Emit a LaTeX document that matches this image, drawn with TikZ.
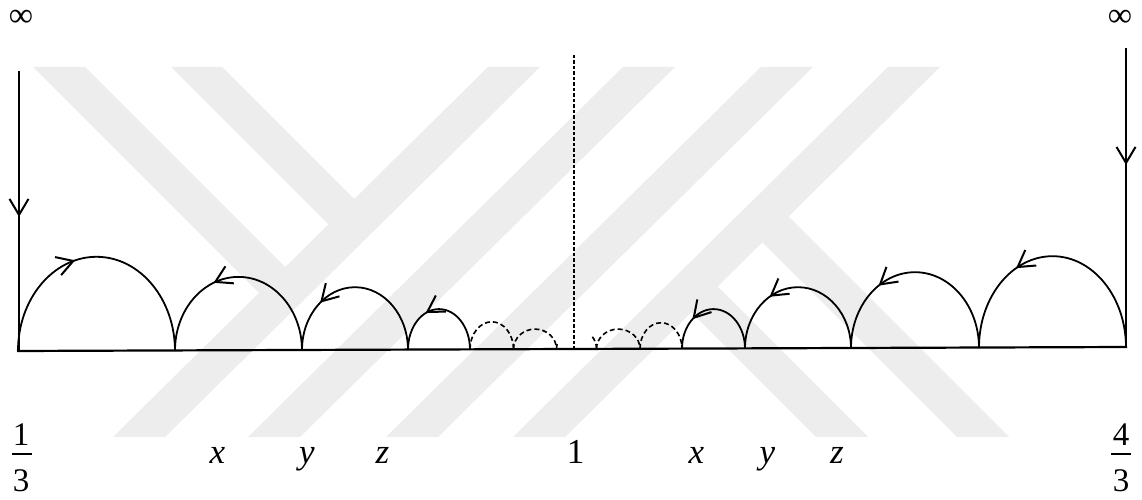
\documentclass[tikz,border=0pt]{standalone}
\usepackage{fontspec}
\setmainfont{Liberation Serif}
\usetikzlibrary{arrows.meta,decorations.markings}
\tikzset{
  mybarb/.tip={Straight Barb[length=16pt,width=19pt]},
  wm/.style={fill=black!7,draw=none},
  baseln/.style={line width=2.2pt},
  vertln/.style={line width=2.1pt},
  solidarc/.style={line width=1.8pt},
  dasharc/.style={line width=1.6pt,dash pattern=on 5pt off 3pt},
  centerln/.style={line width=1.1pt,dash pattern=on 3.5pt off 2pt},
  fwd/.style={postaction={decorate},decoration={markings,mark=at position #1 with {\arrow[line width=2pt]{mybarb}}}},
  bwd/.style={postaction={decorate},decoration={markings,mark=at position #1 with {\arrowreversed[line width=2pt]{mybarb}}}},
  lbl/.style={font=\fontsize{35}{42}\selectfont,inner sep=0pt,anchor=base},
  fraclbl/.style={font=\fontsize{33}{40}\selectfont,inner sep=0pt,anchor=base},
  inflbl/.style={font=\fontsize{34}{40}\selectfont,inner sep=0pt,anchor=center},
  fracbar/.style={line width=1.8pt},
}
\begin{document}
\begin{tikzpicture}[x=1pt,y=1pt]
\useasboundingbox (0,0) rectangle (1142,500);
\fill[white] (0,0) rectangle (1142,500);
% watermark
\fill[wm] (113,63) -- (165,63) -- (540,433) -- (488,433) -- cycle;
\fill[wm] (248,63) -- (300,63) -- (675,433) -- (623,433) -- cycle;
\fill[wm] (386,63) -- (438,63) -- (813,433) -- (761,433) -- cycle;
\fill[wm] (513,63) -- (565,63) -- (940,433) -- (888,433) -- cycle;
\fill[wm] (33,433) -- (85,433) -- (298,220) -- (272,194) -- cycle;
\fill[wm] (171,433) -- (222,433) -- (367,288) -- (341,263) -- cycle;
\fill[wm] (702,229) -- (868,63) -- (816,63) -- (676,203) -- cycle;
\fill[wm] (775.6,296.4) -- (1009,63) -- (957,63) -- (749.4,270.6) -- cycle;
% coordinates
\coordinate (bl) at (17,149);
\coordinate (br) at (1127,153);
\coordinate (Ltop) at (19,429);
\coordinate (Lbot) at (19,149);
\coordinate (Rtop) at (1126,452);
\coordinate (Rbot) at (1126,153);
\coordinate (ctop) at (574,445);
\coordinate (cbot) at (574,150);
\coordinate (p0) at (18,149.0);
\coordinate (p1) at (175,149.6);
\coordinate (p2) at (302,150.0);
\coordinate (p3) at (408,150.4);
\coordinate (p4) at (470,150.6);
\coordinate (p5) at (513.5,150.8);
\coordinate (p6) at (556.5,150.9);
\coordinate (q6) at (596.5,151.1);
\coordinate (q5) at (640,151.25);
\coordinate (q4) at (682,151.4);
\coordinate (q3) at (745,151.6);
\coordinate (q2) at (851,152.0);
\coordinate (q1) at (979,152.5);
\coordinate (q0) at (1126,153);
% baseline and verticals
\draw[baseln] (bl) -- (br);
\draw[vertln,fwd=0.521] (Ltop) -- (Lbot);
\draw[vertln,fwd=0.391] (Rtop) -- (Rbot);
\draw[centerln] (ctop) -- (cbot);
% left arcs
\draw[solidarc,fwd=0.42] (p0) arc[start angle=180,end angle=0,x radius=78.5,y radius=94.2];
\draw[solidarc,bwd=0.38] (p1) arc[start angle=180,end angle=0,x radius=63.5,y radius=73.5];
\draw[solidarc,bwd=0.285] (p2) arc[start angle=180,end angle=0,x radius=53,y radius=62.8];
\draw[solidarc,bwd=0.375] (p3) arc[start angle=180,end angle=0,x radius=31,y radius=40.5];
\draw[dasharc] (p4) arc[start angle=180,end angle=0,x radius=21.75,y radius=27.6];
\draw[dasharc] (p5) arc[start angle=180,end angle=0,x radius=21.5,y radius=20.1];
\draw[dasharc] (p6) arc[start angle=180,end angle=163,x radius=20,y radius=20];
% right arcs
\draw[dasharc] (q6) arc[start angle=0,end angle=40,x radius=20,y radius=20];
\draw[dasharc] (q6) arc[start angle=180,end angle=0,x radius=21.75,y radius=19.8];
\draw[dasharc] (q5) arc[start angle=180,end angle=0,x radius=21,y radius=26];
\draw[solidarc,bwd=0.285] (q4) arc[start angle=180,end angle=0,x radius=31.5,y radius=39.5];
\draw[solidarc,bwd=0.33] (q3) arc[start angle=180,end angle=0,x radius=53,y radius=61.2];
\draw[solidarc,bwd=0.32] (q2) arc[start angle=180,end angle=0,x radius=64,y radius=75.8];
\draw[solidarc,bwd=0.35] (q1) arc[start angle=180,end angle=0,x radius=73.5,y radius=91.3];
% labels
\node[inflbl] (infL) at (21,481.5) {∞};
\node[inflbl] (infR) at (1120,482) {∞};
\node[fraclbl] (f1n) at (21,54) {1};
\node[fraclbl] (f1d) at (21,8) {3};
\coordinate (f1a) at (11.5,46);
\coordinate (f1b) at (31.5,46);
\draw[fracbar] (f1a) -- (f1b);
\node[fraclbl] (f2n) at (1121,54) {4};
\node[fraclbl] (f2d) at (1121,8) {3};
\coordinate (f2a) at (1111,46);
\coordinate (f2b) at (1131,46);
\draw[fracbar] (f2a) -- (f2b);
\node[lbl] (xl) at (217.5,36) {\textit{x}};
\node[lbl] (yl) at (307,36) {\textit{y}};
\node[lbl] (zl) at (382.5,36) {\textit{z}};
\node[lbl] (one) at (575.5,36) {1};
\node[lbl] (xr) at (696.5,36) {\textit{x}};
\node[lbl] (yr) at (767.5,36) {\textit{y}};
\node[lbl] (zr) at (837,36) {\textit{z}};
\end{tikzpicture}
\end{document}
